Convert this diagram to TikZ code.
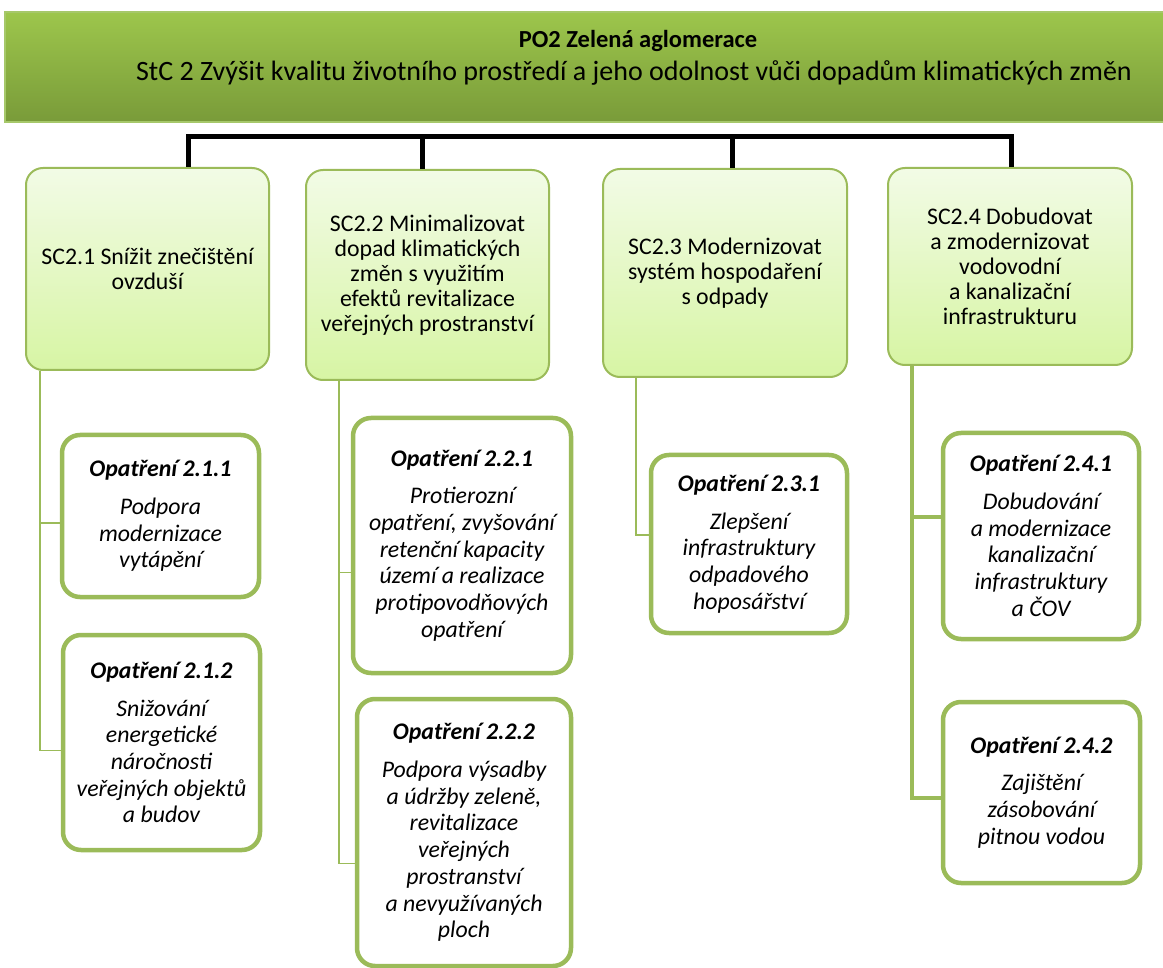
\documentclass[tikz,border=0pt]{standalone}
\usepackage{fontspec}
\setmainfont{Carlito}

\definecolor{leaf}{HTML}{9BBB59}
\definecolor{sctop}{HTML}{F2FBE6}
\definecolor{scbot}{HTML}{D7F5A4}
\definecolor{hdrtop}{HTML}{9DC64C}
\definecolor{hdrbot}{HTML}{799B39}
\definecolor{hdrline}{HTML}{A6C86A}

\tikzset{
  header/.style={draw=hdrline, line width=1.5pt, top color=hdrtop, bottom color=hdrbot},
  hdrtext/.style={anchor=base, inner sep=0pt},
  scbox/.style={draw=leaf, line width=2pt, rounded corners=17pt, top color=sctop,
    bottom color=scbot, align=center, font=\fontsize{23.8}{25}\selectfont},
  opbox/.style={draw=leaf, line width=4.5pt, rounded corners=18pt, fill=white,
    align=center, font=\fontsize{23.8}{26.7}\selectfont\itshape},
  stem/.style={draw=leaf, line width=1.5pt},
  trunk/.style={draw=black, line width=5pt},
}

\begin{document}
\begin{tikzpicture}[x=1pt,y=-1pt]
  \useasboundingbox (0,0) rectangle (1163,968);
  \clip (0,0) rectangle (1163,968);

  % header
  \node[header, minimum width=1264pt, minimum height=110pt] (po2) at (637,67) {};
  \node[hdrtext, font=\fontsize{24.5}{28}\selectfont\bfseries] (po2title) at (638,48)
    {PO2 Zelená aglomerace};
  \node[hdrtext, font=\fontsize{28}{30}\selectfont] (po2goal) at (634,81)
    {StC 2 Zvýšit kvalitu životního prostředí a jeho odolnost vůči dopadům klimatických změn};

  % specific goals
  \node[scbox, minimum width=243pt, minimum height=202pt] (sc1) at (147.5,269)
    {SC2.1 Snížit znečištění\\ovzduší};
  \node[scbox, minimum width=243pt, minimum height=210pt] (sc2) at (427.5,275)
    {SC2.2 Minimalizovat\\dopad klimatických\\změn s~využitím\\efektů revitalizace\\veřejných prostranství};
  \node[scbox, minimum width=244pt, minimum height=208pt] (sc3) at (725,273)
    {SC2.3 Modernizovat\\systém hospodaření\\s~odpady};
  \node[scbox, minimum width=244pt, minimum height=197pt] (sc4) at (1010,266.5)
    {SC2.4 Dobudovat\\a~zmodernizovat\\vodovodní\\a~kanalizační\\infrastrukturu};

  % measures
  \node[opbox, minimum width=197pt, minimum height=162pt] (o211) at (160.5,516)
    {\textbf{Opatření 2.1.1}\\[11pt]Podpora\\modernizace\\vytápění};
  \node[opbox, minimum width=197pt, minimum height=215pt] (o212) at (161.5,742.5)
    {\textbf{Opatření 2.1.2}\\[11pt]Snižování\\energetické\\náročnosti\\veřejných objektů\\a~budov};
  \node[opbox, minimum width=218pt, minimum height=255pt] (o221) at (462,545.5)
    {\textbf{Opatření 2.2.1}\\[11pt]Protierozní\\opatření, zvyšování\\retenční kapacity\\území a realizace\\protipovodňových\\opatření};
  \node[opbox, minimum width=214pt, minimum height=267pt] (o222) at (464,832.5)
    {\textbf{Opatření 2.2.2}\\[11pt]Podpora výsadby\\a~údržby zeleně,\\revitalizace\\veřejných\\prostranství\\a~nevyužívaných\\ploch};
  \node[opbox, minimum width=196pt, minimum height=178pt] (o231) at (749,544)
    {\textbf{Opatření 2.3.1}\\[11pt]Zlepšení\\infrastruktury\\odpadového\\hoposářství};
  \node[opbox, minimum width=196pt, minimum height=206pt] (o241) at (1041,536)
    {\textbf{Opatření 2.4.1}\\[11pt]Dobudování\\a~modernizace\\kanalizační\\infrastruktury\\a~ČOV};
  \node[opbox, minimum width=197pt, minimum height=181pt] (o242) at (1041.5,792.5)
    {\textbf{Opatření 2.4.2}\\[11pt]Zajištění\\zásobování\\pitnou vodou};

  % black bar from the header
  \coordinate (bar) at (0,137);
  \coordinate (t1) at ([xshift=40.5pt]sc1.north);
  \coordinate (t2) at ([xshift=-5.5pt]sc2.north);
  \coordinate (t3) at ([xshift=7pt]sc3.north);
  \coordinate (t4) at ([xshift=1pt]sc4.north);
  \draw[trunk] (t1) |- (t4 |- bar) -- (t4);
  \draw[trunk] (t2 |- bar) -- (t2);
  \draw[trunk] (t3 |- bar) -- (t3);

  % stems down to the measures
  \draw[stem] ([xshift=15pt]sc1.south west) |- ([yshift=-7pt]o211.west);
  \draw[stem] ([xshift=15pt]sc1.south west) |- ([yshift=-8pt]o212.west);
  \draw[stem] ([xshift=34pt]sc2.south west) |- ([yshift=-27pt]o221.west);
  \draw[stem] ([xshift=34pt]sc2.south west) |- ([yshift=-31pt]o222.west);
  \draw[stem] ([xshift=34pt]sc3.south west) |- ([yshift=9pt]o231.west);
  \draw[stem, line width=4pt] ([xshift=25pt]sc4.south west) |- ([yshift=19pt]o241.west);
  \draw[stem, line width=4pt] ([xshift=25pt]sc4.south west) |- ([yshift=-5pt]o242.west);
\end{tikzpicture}
\end{document}
